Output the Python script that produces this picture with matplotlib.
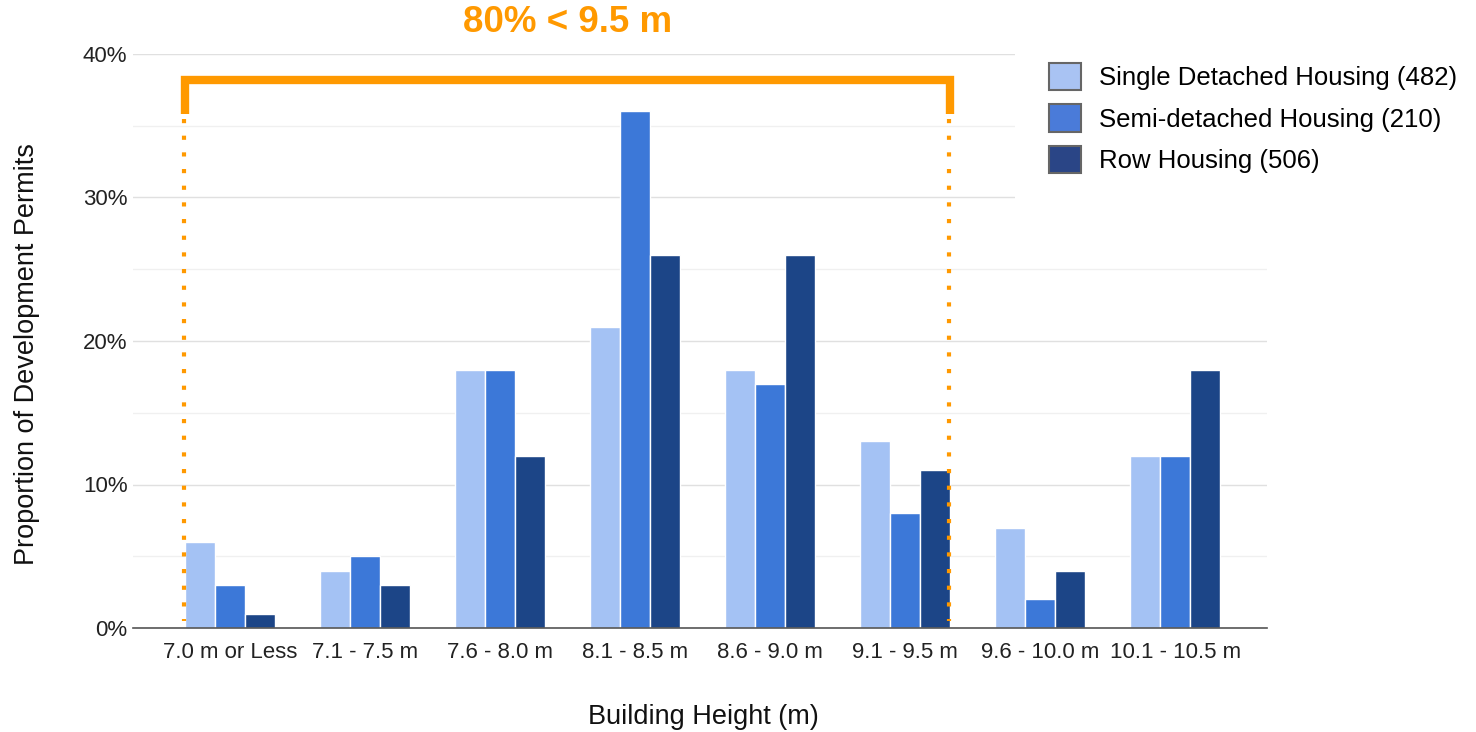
import matplotlib.pyplot as plt
import numpy as np
from matplotlib.patches import Patch, Rectangle

plt.rcParams['font.family'] = ['Liberation Sans', 'DejaVu Sans']

## DATA ##
categories = ["7.0 m or Less", "7.1 - 7.5 m", "7.6 - 8.0 m", "8.1 - 8.5 m",
              "8.6 - 9.0 m", "9.1 - 9.5 m", "9.6 - 10.0 m", "10.1 - 10.5 m"]
single = [6, 4, 18, 21, 18, 13, 7, 12]
semi = [3, 5, 18, 36, 17, 8, 2, 12]
row = [1, 3, 12, 26, 26, 11, 4, 18]
series_names = ["Single Detached Housing (482)", "Semi-detached Housing (210)", "Row Housing (506)"]
colors = ["#a4c2f4", "#3c78d8", "#1c4587"]
legend_colors = ["#a9c3f3", "#4a7bd9", "#2a4586"]
y_ticks = [0, 10, 20, 30, 40]
y_tick_labels = ["0%", "10%", "20%", "30%", "40%"]

fig = plt.figure(figsize=(14.76, 7.32), dpi=100)
ax = fig.add_axes([133 / 1476, 1 - 628 / 732, (1267 - 133) / 1476, (628 - 54) / 732])

x = np.arange(len(categories))
w = 0.222
for i, (vals, c) in enumerate(zip([single, semi, row], colors)):
    ax.bar(x + (i - 1) * w, vals, width=w, color=c, edgecolor="white", linewidth=1, zorder=2)

ax.set_xlim(-0.72, 7.68)
ax.set_ylim(0, 40)
ax.set_yticks(y_ticks)
ax.set_yticklabels(y_tick_labels)
ax.set_yticks([5, 15, 25, 35], minor=True)
ax.set_xticks(x)
ax.set_xticklabels(categories)
ax.set_axisbelow(True)
ax.grid(axis="y", which="major", color="#e0e0e0", linewidth=1)
ax.grid(axis="y", which="minor", color="#f0f0f0", linewidth=1)
ax.tick_params(axis="both", which="both", length=0, labelsize=16, colors="#222222")
ax.tick_params(axis="x", pad=10)
ax.tick_params(axis="y", pad=4)
for s in ["top", "right", "left"]:
    ax.spines[s].set_visible(False)
ax.spines["bottom"].set_color("#555555")
ax.spines["bottom"].set_linewidth(1.2)

# axis titles
fig.text(703 / 1476, 1 - 717 / 732, "Building Height (m)", fontsize=19.5, color="#111111",
         ha="center", va="center")
fig.text(27 / 1476, 1 - 354 / 732, "Proportion of Development Permits", fontsize=19.5,
         color="#111111", ha="center", va="center", rotation=90)

# white cover behind legend
ax.add_patch(Rectangle((5.81, 28.5), 2.0, 13, facecolor="white", edgecolor="none",
                       zorder=1, clip_on=False))

# bracket
orange = "#ff9900"
x0, x1 = -0.335, 5.335
ax.plot([x0, x0, x1, x1], [35.8, 38.2, 38.2, 35.8], color=orange, lw=6,
        solid_joinstyle="miter", solid_capstyle="butt", clip_on=False, zorder=3)
for xx in [x0 - 0.01, x1 - 0.01]:
    ax.plot([xx, xx], [35.5, 0.5], color=orange, lw=3, linestyle=(0, (1, 3)),
            dash_capstyle="butt", clip_on=False, zorder=3)
ax.text((x0 + x1) / 2, 42.2, "80% < 9.5 m", color=orange, fontsize=26.5, fontweight="bold",
        ha="center", va="center", clip_on=False)

handles = [Patch(facecolor=c, edgecolor="#666666", linewidth=1.5) for c in legend_colors]
fig.legend(handles, series_names, loc="upper left", bbox_to_anchor=(1031 / 1476, 1 - 45 / 732),
           frameon=False, fontsize=18.5, handlelength=1.25, handleheight=1.25,
           labelspacing=0.55, handletextpad=0.7, borderpad=0.2)

fig.savefig("out.png", dpi=100)
